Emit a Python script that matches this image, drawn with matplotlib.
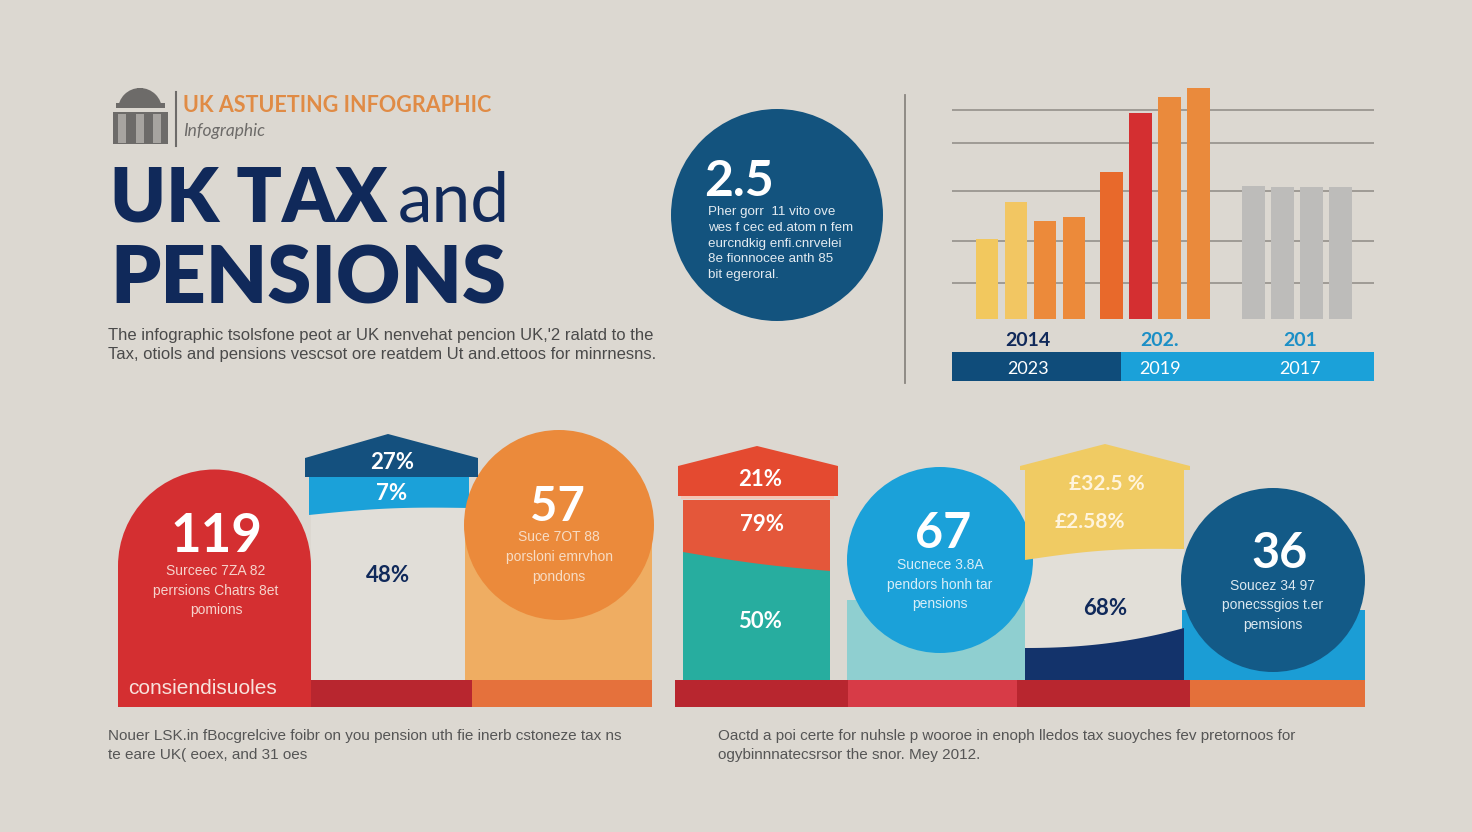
"""UK tax and pensions infographic, redrawn with matplotlib."""

import matplotlib
matplotlib.use('Agg')
import matplotlib.pyplot as plt
from matplotlib.patches import Rectangle, Circle, Polygon
import numpy as np

# Colours
BG = '#dcd8d1'
NAVY = '#10295a'
DEEP_BLUE = '#13537e'
SKY = '#1ba1d9'
RED = '#d42f31'
DARK_RED = '#b8262f'
ORANGE = '#eb8a3b'
TEXT_GREY = '#4a4a4a'

plt.rcParams.update({
    'font.family': ['Lato', 'DejaVu Sans'],
    'text.parse_math': False,
})

# Top-right bar chart data
bar_values = [80, 117, 98, 102, 147, 206, 222, 231, 133, 132, 132, 132]
bar_groups = [0, 0, 0, 0, 1, 1, 1, 1, 2, 2, 2, 2]
bar_colors = ['#f2c85e', '#f2c662', '#ec8a3a', '#ec8a3a',
              '#e8692b', '#d42f31', '#ea8a3c', '#ea8a3c',
              '#bdbcba', '#bdbcba', '#bdbcba', '#bdbcba']
group_gap = [0.0, 0.3, 1.2]
grid_levels = [36, 78, 128, 176, 209]
group_years_top = ['2014', '202.', '201']
group_years_bottom = ['2023', '2019', '2017']

# Stat panels
big_numbers = ['119', '57', '67', '36']
big_subtext = [
    ['Surceec 7ZA 82', 'perrsions Chatrs 8et', 'pomions'],
    ['Suce 7OT 88', 'porsloni emrvhon', 'pondons'],
    ['Sucnece 3.8A', 'pendors honh tar', 'pensions'],
    ['Soucez 34 97', 'ponecssgios t.er', 'pemsions'],
]
house_pcts = [['27%', '7%', '48%'], ['21%', '79%', '50%'], ['£32.5 %', '£2.58%', '68%']]

fig = plt.figure(figsize=(14.72, 8.32), dpi=100)
fig.patch.set_facecolor(BG)
ax = fig.add_axes([0, 0, 1, 1])
ax.set_xlim(0, 1472)
ax.set_ylim(832, 0)
ax.axis('off')
ax.set_facecolor(BG)


def rect(x0, y0, x1, y1, color, z=2):
    ax.add_patch(Rectangle((x0, y0), x1 - x0, y1 - y0, fc=color, ec='none', zorder=z))


def poly(points, color, z=2):
    ax.add_patch(Polygon(points, closed=True, fc=color, ec='none', zorder=z))


def circle(cx, cy, r, color, z=3):
    ax.add_patch(Circle((cx, cy), r, fc=color, ec='none', zorder=z))


def wave_band(x0, x1, y_top, yl, yr, amp, color, z=2, top_pts=None):
    """Band with flat (or given) top and a gently waved bottom edge."""
    xs = np.linspace(x0, x1, 40)
    t = (xs - x0) / (x1 - x0)
    ys = yl + (yr - yl) * t + amp * np.sin(np.pi * t)
    top = top_pts if top_pts is not None else [(x0, y_top), (x1, y_top)]
    pts = list(top) + list(zip(xs[::-1], ys[::-1]))
    poly(pts, color, z)


# ---------- header ----------
# building logo
rect(113, 108, 168, 144, '#6d6b69', 2)
ax.add_patch(Circle((140, 110), 22, fc='#6d6b69', ec='none', zorder=2))
rect(113, 108, 168, 112, BG, 2)
for px in (122, 140, 157):
    rect(px - 4, 114, px + 4, 143, '#a7a4a0', 3)
rect(116, 103, 165, 108, '#6d6b69', 3)
rect(137, 88, 143, 95, '#6d6b69', 3)
ax.plot([176, 176], [92, 146], color='#6d6b69', lw=1.5, zorder=3)

ax.text(183, 112, 'UK ASTUETING INFOGRAPHIC', fontsize=15.5, fontweight='bold',
        color='#e08b45', ha='left', va='baseline', zorder=4)
ax.text(183, 136, 'Infographic', fontsize=12.5, style='italic',
        color='#6d6b69', ha='left', va='baseline', zorder=4)

ax.text(110, 222, 'UK TAX', fontsize=54, fontweight='heavy', color=NAVY,
        ha='left', va='baseline', zorder=4)
ax.text(398, 222, 'and', fontsize=50, fontweight='normal', color=NAVY,
        ha='left', va='baseline', zorder=4)
ax.text(110, 303, 'PENSIONS', fontsize=57, fontweight='heavy', color=NAVY,
        ha='left', va='baseline', zorder=4)

ax.text(108, 340, "The infographic tsolsfone peot ar UK nenvehat pencion UK,'2 ralatd to the",
        fontsize=12, color=TEXT_GREY, family='Liberation Sans', ha='left', va='baseline')
ax.text(108, 359, 'Tax, otiols and pensions vescsot ore reatdem Ut and.ettoos for minrnesns.',
        fontsize=12, color=TEXT_GREY, family='Liberation Sans', ha='left', va='baseline')

# ---------- 2.5 circle ----------
circle(777, 215, 106, DEEP_BLUE)
ax.text(704, 196, '2.5', fontsize=36, fontweight='bold', color='white',
        ha='left', va='baseline', zorder=5)
circle_lines = ['Pher gorr  11 vito ove', 'wes f cec ed.atom n fem',
                'eurcndkig enfi.cnrvelei', '8e fionnocee anth 85', 'bit egeroral.']
for i, line in enumerate(circle_lines):
    ax.text(708, 215 + i * 15.8, line, fontsize=9.6, color='#e3ebf1',
            family='Liberation Sans', ha='left', va='baseline', zorder=5)

ax.plot([905, 905], [95, 383], color='#8a8580', lw=1.3, zorder=2)

# ---------- top-right bar chart ----------
W, H = 1472, 832
bx0, bx1, by0, by1 = 952, 1374, 80, 319
bax = fig.add_axes([bx0 / W, (H - by1) / H, (bx1 - bx0) / W, (by1 - by0) / H])
bax.set_facecolor('none')
positions = [i + group_gap[g] for i, g in enumerate(bar_groups)]
unit = 29.0
bax.set_xlim(-(987 - bx0) / unit, (bx1 - 987) / unit)
bax.set_ylim(0, by1 - by0)
for lvl in grid_levels:
    bax.axhline(lvl, color='#8f8a85', lw=1.1, zorder=1)
bax.bar(positions, bar_values, width=0.78, color=bar_colors, zorder=2)
bax.axis('off')

group_centres = [1028, 1160, 1300]
for g in range(3):
    ax.text(group_centres[g], 346, group_years_top[g], fontsize=14, fontweight='bold',
            color=NAVY if g == 0 else '#1c8fc6', ha='center', va='baseline', zorder=4)
rect(952, 352, 1121, 381, '#0f4c7a', 3)
rect(1121, 352, 1374, 381, SKY, 3)
for g in range(3):
    ax.text(group_centres[g], 374, group_years_bottom[g], fontsize=13,
            color='white', ha='center', va='baseline', zorder=4)

# ---------- bottom-left group ----------
# red arch
rect(118, 566, 311, 707, RED, 3)
circle(214.5, 566, 96.5, RED, 3)
ax.text(216, 552, big_numbers[0], fontsize=38, fontweight='bold', color='white',
        ha='center', va='baseline', zorder=5)
for i, line in enumerate(big_subtext[0]):
    ax.text(216, 575 + i * 19.5, line, fontsize=10, color='#f6d3cc',
            family='Liberation Sans', ha='center', va='baseline', zorder=5)
ax.text(128, 694, 'consiendisuoles', fontsize=15, color='#f8e2dc',
        family='Liberation Sans', ha='left', va='baseline', zorder=5)

# middle house
rect(311, 505, 465, 680, '#e1ded8', 2)
wave_band(309, 469, 476, 515, 508, -3, SKY, 3)
poly([(305, 477), (305, 458), (388, 434), (478, 458), (478, 477)], '#14507e', 4)
ax.text(392, 469, house_pcts[0][0], fontsize=16, fontweight='bold', color='white',
        ha='center', va='baseline', zorder=5)
ax.text(392, 500, house_pcts[0][1], fontsize=16, fontweight='bold', color='white',
        ha='center', va='baseline', zorder=5)
ax.text(388, 582, house_pcts[0][2], fontsize=16, fontweight='bold', color=NAVY,
        ha='center', va='baseline', zorder=5)

# orange circle
rect(465, 525, 652, 680, '#efad62', 2)
circle(559, 525, 95, ORANGE, 3)
ax.text(557, 521, big_numbers[1], fontsize=34, fontweight='bold', color='white',
        ha='center', va='baseline', zorder=5)
for i, line in enumerate(big_subtext[1]):
    ax.text(559, 541 + i * 20, line, fontsize=10, color='#f7dcc4',
            family='Liberation Sans', ha='center', va='baseline', zorder=5)

rect(311, 680, 472, 707, DARK_RED, 3)
rect(472, 680, 652, 707, '#e5713c', 3)

# ---------- bottom-right group ----------
# red/teal house
rect(683, 545, 830, 680, '#27ad9f', 2)
wave_band(683, 830, 500, 552, 571, 2, '#e4573a', 3)
poly([(678, 496), (678, 466), (757, 446), (838, 466), (838, 496)], '#e44a30', 4)
rect(681, 496, 834, 499, '#f4c3b3', 4)
ax.text(760, 486, house_pcts[1][0], fontsize=16, fontweight='bold', color='white',
        ha='center', va='baseline', zorder=5)
ax.text(762, 531, house_pcts[1][1], fontsize=16, fontweight='bold', color='white',
        ha='center', va='baseline', zorder=5)
ax.text(760, 628, house_pcts[1][2], fontsize=16, fontweight='bold', color='white',
        ha='center', va='baseline', zorder=5)

# sky circle
rect(847, 600, 1025, 680, '#8fcfd0', 2)
circle(940, 560, 93, SKY, 3)
ax.text(943, 548, big_numbers[2], fontsize=35, fontweight='bold', color='white',
        ha='center', va='baseline', zorder=5)
for i, line in enumerate(big_subtext[2]):
    ax.text(940, 569 + i * 19.5, line, fontsize=10, color='#d8eef8',
            family='Liberation Sans', ha='center', va='baseline', zorder=5)

# yellow house
rect(1025, 540, 1184, 680, '#e2dfd8', 2)
wave_band(1025, 1184, 470, 560, 549, -4, '#f0cb63', 3,
          top_pts=[(1025, 560), (1025, 470), (1020, 470), (1020, 466), (1105, 444),
                   (1190, 466), (1190, 470), (1184, 470), (1184, 549)])
xs = np.linspace(1025, 1184, 40)
t = (xs - 1025) / 159
ys = 648 - 20 * t ** 2.2
poly(list(zip(xs, ys)) + [(1184, 680), (1025, 680)], '#13336b', 3)
ax.text(1107, 490, house_pcts[2][0], fontsize=15, fontweight='bold', color='#fff4dc',
        ha='center', va='baseline', zorder=5)
ax.text(1090, 528, house_pcts[2][1], fontsize=15, fontweight='bold', color='#fff4dc',
        ha='center', va='baseline', zorder=5)
ax.text(1105, 615, house_pcts[2][2], fontsize=16, fontweight='bold', color=NAVY,
        ha='center', va='baseline', zorder=5)

# navy circle
rect(1182, 610, 1365, 680, '#1b9dd5', 2)
circle(1273, 580, 92, '#135a87', 3)
ax.text(1280, 568, big_numbers[3], fontsize=35, fontweight='bold', color='white',
        ha='center', va='baseline', zorder=5)
for i, line in enumerate(big_subtext[3]):
    ax.text(1273, 590 + i * 19.5, line, fontsize=10, color='#dbe8f0',
            family='Liberation Sans', ha='center', va='baseline', zorder=5)

rect(675, 680, 848, 707, DARK_RED, 4)
rect(848, 680, 1017, 707, '#d73b47', 4)
rect(1017, 680, 1190, 707, DARK_RED, 4)
rect(1190, 680, 1365, 707, '#e4703a', 4)

# ---------- footnotes ----------
foot_left = ['Nouer LSK.in fBocgrelcive foibr on you pension uth fie inerb cstoneze tax ns',
             'te eare UK( eoex, and 31 oes']
foot_right = ['Oactd a poi certe for nuhsle p wooroe in enoph lledos tax suoyches fev pretornoos for',
              'ogybinnnatecsrsor the snor. Mey 2012.']
for i, line in enumerate(foot_left):
    ax.text(108, 740 + i * 19, line, fontsize=11, color='#555555',
            family='Liberation Sans', ha='left', va='baseline')
for i, line in enumerate(foot_right):
    ax.text(718, 740 + i * 19, line, fontsize=11, color='#555555',
            family='Liberation Sans', ha='left', va='baseline')

fig.savefig('out.png', dpi=100, facecolor=BG)
